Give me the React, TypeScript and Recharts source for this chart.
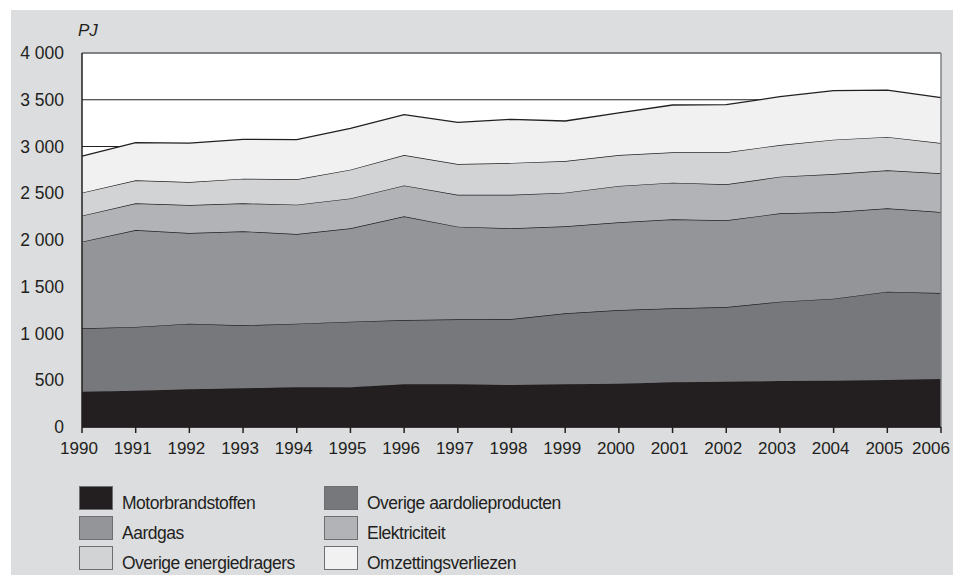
import React from "react";
import {
  Area,
  AreaChart,
  CartesianGrid,
  ReferenceLine,
  XAxis,
  YAxis,
} from "recharts";

const YEARS = [
  1990, 1991, 1992, 1993, 1994, 1995, 1996, 1997, 1998, 1999, 2000, 2001, 2002, 2003, 2004,
  2005, 2006,
];

// PJ per energy carrier (stacked bottom to top)
const MOTORBRANDSTOFFEN = [377, 388, 403, 414, 424, 426, 456, 456, 449, 457, 463, 478, 485, 492, 495, 503, 513];
const OVERIGE_AARDOLIE = [678, 682, 702, 673, 681, 700, 688, 696, 706, 759, 788, 791, 798, 848, 877, 944, 920];
const AARDGAS = [927, 1037, 970, 1006, 959, 999, 1109, 990, 970, 930, 938, 952, 927, 945, 927, 892, 866];
const ELEKTRICITEIT = [278, 285, 299, 299, 314, 320, 331, 342, 359, 360, 389, 392, 385, 392, 407, 406, 414];
const OVERIGE_ENERGIE = [246, 246, 246, 264, 271, 307, 325, 329, 340, 339, 331, 325, 343, 339, 367, 357, 324];
const OMZETTING = [392, 403, 417, 421, 424, 442, 431, 446, 467, 428, 451, 506, 509, 517, 524, 502, 485];

const Y_TICKS = [0, 500, 1000, 1500, 2000, 2500, 3000, 3500, 4000];

const SERIES = [
  { key: "motor", name: "Motorbrandstoffen", color: "#231f20", values: MOTORBRANDSTOFFEN },
  { key: "aardolie", name: "Overige aardolieproducten", color: "#77787b", values: OVERIGE_AARDOLIE },
  { key: "aardgas", name: "Aardgas", color: "#939598", values: AARDGAS },
  { key: "elek", name: "Elektriciteit", color: "#b1b3b6", values: ELEKTRICITEIT },
  { key: "overig", name: "Overige energiedragers", color: "#d1d3d4", values: OVERIGE_ENERGIE },
  { key: "omzet", name: "Omzettingsverliezen", color: "#f1f1f2", values: OMZETTING },
];

const FONT = "'Liberation Sans', Arial, Helvetica, sans-serif";
const INK = "#231f20";

function formatThousands(v: number): string {
  if (v < 1000) return String(v);
  return `${Math.floor(v / 1000)} ${String(v % 1000).padStart(3, "0")}`;
}

const rows = YEARS.map((year, i) => {
  const row: Record<string, number | string> = { year: String(year) };
  for (const s of SERIES) row[s.key] = s.values[i];
  return row;
});

// legend order: two columns, three rows
const LEGEND_ORDER = ["motor", "aardolie", "aardgas", "elek", "overig", "omzet"];

// year labels sit a little left of their ticks; the last one is pulled in to stay on the page
function YearTick(props: { x?: number; y?: number; payload?: { value: string } }) {
  const { x = 0, y = 0, payload } = props;
  const last = payload?.value === String(YEARS[YEARS.length - 1]);
  return (
    <text
      x={x + (last ? -10 : -3)}
      y={y}
      dy={19}
      textAnchor="middle"
      fill={INK}
      fontSize={17}
      fontFamily={FONT}
    >
      {payload?.value}
    </text>
  );
}

export default function App() {
  return (
    <div style={{ position: "absolute", left: 0, top: 0, width: 953, height: 575, fontFamily: FONT }}>
      <div
        style={{
          position: "absolute",
          left: 11,
          top: 10,
          width: 942,
          height: 565,
          background: "#dcdddf",
        }}
      />
      <div style={{ position: "absolute", left: 0, top: 0 }}>
        <AreaChart
          width={953}
          height={575}
          data={rows}
          margin={{ top: 53, right: 12, left: 10, bottom: 118 }}
        >
          <CartesianGrid vertical={false} stroke={INK} strokeWidth={1.2} fill="#ffffff" fillOpacity={1} />
          <XAxis
            dataKey="year"
            interval={0}
            axisLine={{ stroke: INK, strokeWidth: 1.5 }}
            tickLine={{ stroke: INK, strokeWidth: 1.5 }}
            tickSize={6}
            tickMargin={2}
            tick={<YearTick />}
          />
          <YAxis
            domain={[0, 4000]}
            ticks={Y_TICKS}
            interval={0}
            width={72}
            axisLine={{ stroke: INK, strokeWidth: 1.5 }}
            tickLine={false}
            tickMargin={12}
            tickFormatter={formatThousands}
            tick={{ fill: INK, fontSize: 17.5, fontFamily: FONT }}
          />
          {SERIES.map((s) => (
            <Area
              key={s.key}
              type="linear"
              dataKey={s.key}
              name={s.name}
              stackId="1"
              fill={s.color}
              fillOpacity={1}
              stroke={INK}
              strokeWidth={1.3}
              dot={false}
              activeDot={false}
              isAnimationActive={false}
            />
          ))}
          <ReferenceLine y={4000} stroke="#808285" strokeWidth={1.5} />
          <ReferenceLine x="2006" stroke="#808285" strokeWidth={1.5} />
        </AreaChart>
      </div>
      <div
        style={{
          position: "absolute",
          left: 78,
          top: 21,
          fontSize: 17,
          fontStyle: "italic",
          color: INK,
        }}
      >
        PJ
      </div>
      {LEGEND_ORDER.map((key, i) => {
        const s = SERIES.find((x) => x.key === key)!;
        const col = i % 2;
        const row = Math.floor(i / 2);
        const left = col === 0 ? 79 : 324;
        const top = 486 + row * 30;
        return (
          <div key={key} style={{ position: "absolute", left, top, height: 24, display: "flex", alignItems: "flex-end" }}>
            <div
              style={{
                width: 32,
                height: 22,
                background: s.color,
                border: "1px solid #6d6e71",
              }}
            />
            <span
              style={{
                marginLeft: 9,
                fontSize: 17.5,
                lineHeight: "17px",
                letterSpacing: "-0.5px",
                color: INK,
                marginBottom: -2,
              }}
            >
              {s.name}
            </span>
          </div>
        );
      })}
    </div>
  );
}
